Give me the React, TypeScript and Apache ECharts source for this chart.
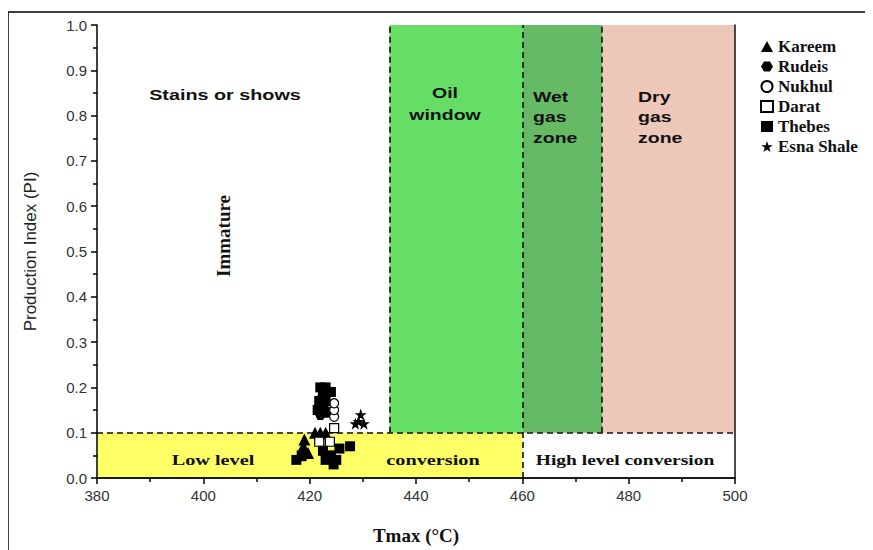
import React, { useEffect, useRef } from "react";
import * as echarts from "echarts";

const seriesNames = ["Kareem", "Rudeis", "Nukhul", "Darat", "Thebes", "Esna Shale"];

const kareem: [number, number][] = [
  [418.3, 0.05], [419, 0.085], [419.7, 0.055], [418.8, 0.07], [421, 0.1], [422, 0.1], [423, 0.1],
];
const rudeis: [number, number][] = [
  [422, 0.14], [422.6, 0.155], [423.2, 0.145], [422.2, 0.175], [421.8, 0.16],
];
const nukhul: [number, number][] = [
  [424.6, 0.135], [424.6, 0.15], [424.6, 0.165],
];
const darat: [number, number][] = [
  [424.6, 0.11], [421.8, 0.08], [423.8, 0.08],
];
const thebes: [number, number][] = [
  [422, 0.2], [423, 0.2], [424, 0.19], [422.5, 0.185], [421.8, 0.17], [423, 0.17], [421.5, 0.15],
  [417.5, 0.04], [418.5, 0.05], [422.5, 0.06], [423, 0.04], [424, 0.05], [425, 0.04],
  [425.6, 0.065], [427.6, 0.07], [424.5, 0.03],
];
const esnaShale: [number, number][] = [
  [429.6, 0.14], [429.2, 0.125], [430.2, 0.12], [428.6, 0.12],
];

const xTicks = { min: 380, max: 500, interval: 20 };
const yTicks = { min: 0, max: 1, interval: 0.1 };

const hexPath = "path://M0,5 L3,0 L9,0 L12,5 L9,10 L3,10 Z";
const starPath =
  "path://M5,0 L6.2,3.6 L10,3.6 L6.9,5.9 L8.1,9.5 L5,7.3 L1.9,9.5 L3.1,5.9 L0,3.6 L3.8,3.6 Z";

const sans = "Liberation Sans, Arial, sans-serif";
const serif = "Liberation Serif, Times New Roman, serif";

export default function App() {
  const ref = useRef<HTMLDivElement>(null);
  useEffect(() => {
    if (!ref.current) return;
    const chart = echarts.init(ref.current, undefined, { renderer: "svg" });
    const dash = { type: [6, 4] as any, color: "#111", width: 1.6 };
    const mk = (name: string, data: [number, number][], symbol: string, size: number, fill: string) => ({
      name,
      type: "scatter",
      data,
      symbol,
      symbolSize: size,
      z: 6,
      itemStyle: { color: fill, borderColor: "#000", borderWidth: fill === "#fff" ? 1.2 : 0, opacity: 1 },
    });
    const txt = (x: number, y: number, text: string, font: string, align: string, extra: any = {}) => ({
      type: "text",
      x,
      y,
      z: 20,
      silent: true,
      ...extra,
      style: { text, font, fill: "#111", align, verticalAlign: "middle", ...(extra.style || {}) },
    });
    chart.setOption({
      animation: false,
      backgroundColor: "#fff",
      grid: { left: 97, right: 138, top: 25, bottom: 68, containLabel: false },
      legend: {
        orient: "vertical",
        left: 755,
        top: 33,
        itemGap: 3,
        itemWidth: 12,
        itemHeight: 11,
        data: seriesNames,
        textStyle: { fontFamily: serif, fontWeight: "bold", fontSize: 17, color: "#111" },
      },
      xAxis: [
        {
          type: "value",
          min: xTicks.min,
          max: xTicks.max,
          interval: xTicks.interval,
          z: 5,
          axisLine: { show: true, onZero: false, lineStyle: { color: "#000", width: 1.5 } },
          axisTick: { show: true, length: 6, lineStyle: { color: "#000", width: 1.5 } },
          minorTick: { show: true, splitNumber: 2, length: 4, lineStyle: { color: "#000", width: 1.5 } },
          splitLine: { show: false },
          axisLabel: { fontFamily: sans, fontSize: 15, color: "#333", margin: 10 },
          name: "Tmax (°C)",
          nameLocation: "middle",
          nameGap: 48,
          nameTextStyle: { fontFamily: serif, fontWeight: "bold", fontSize: 19, color: "#111" },
        },
        {
          type: "value",
          position: "top",
          min: xTicks.min,
          max: xTicks.max,
          z: 5,
          axisLine: { show: true, lineStyle: { color: "#111", width: 1.5 } },
          axisTick: { show: false },
          axisLabel: { show: false },
          splitLine: { show: false },
        },
      ],
      yAxis: [
        {
          type: "value",
          min: yTicks.min,
          max: yTicks.max,
          interval: yTicks.interval,
          z: 5,
          axisLine: { show: true, onZero: false, lineStyle: { color: "#000", width: 1.5 } },
          axisTick: { show: true, length: 6, lineStyle: { color: "#000", width: 1.5 } },
          minorTick: { show: true, splitNumber: 2, length: 4, lineStyle: { color: "#000", width: 1.5 } },
          splitLine: { show: false },
          axisLabel: {
            fontFamily: sans,
            fontSize: 15,
            color: "#333",
            margin: 10,
            formatter: (v: number) => v.toFixed(1),
          },
          name: "Production Index (PI)",
          nameLocation: "middle",
          nameGap: 58,
          nameTextStyle: { fontFamily: sans, fontSize: 17, color: "#222" },
        },
        {
          type: "value",
          position: "right",
          min: yTicks.min,
          max: yTicks.max,
          z: 5,
          axisLine: { show: true, lineStyle: { color: "#111", width: 1.5 } },
          axisTick: { show: false },
          axisLabel: { show: false },
          splitLine: { show: false },
        },
      ],
      series: [
        {
          name: "zones",
          type: "scatter",
          data: [],
          z: 1,
          silent: true,
          markArea: {
            silent: true,
            data: [
              [{ coord: [380, 0], itemStyle: { color: "#FFFF66" } }, { coord: [460, 0.1] }],
              [{ coord: [435, 0.1], itemStyle: { color: "#66DE66" } }, { coord: [460, 1] }],
              [{ coord: [460, 0.1], itemStyle: { color: "#66BA66" } }, { coord: [475, 1] }],
              [{ coord: [475, 0.1], itemStyle: { color: "#EDC7B8" } }, { coord: [500, 1] }],
            ],
          },
          markLine: {
            silent: true,
            symbol: ["none", "none"],
            label: { show: false },
            lineStyle: dash,
            data: [
              [{ coord: [380, 0.1] }, { coord: [500, 0.1] }],
              [{ coord: [435, 0.1] }, { coord: [435, 1] }],
              [{ coord: [460, 0] }, { coord: [460, 1] }],
              [{ coord: [475, 0.1] }, { coord: [475, 1] }],
            ],
          },
        },
        mk("Kareem", kareem, "triangle", 12, "#000"),
        mk("Rudeis", rudeis, hexPath, 11, "#000"),
        mk("Nukhul", nukhul, "circle", 9, "#fff"),
        mk("Darat", darat, "rect", 9, "#fff"),
        mk("Thebes", thebes, "rect", 10, "#000"),
        mk("Esna Shale", esnaShale, starPath, 12, "#000"),
      ],
      graphic: [
        {
          type: "rect",
          z: 0,
          silent: true,
          shape: { x: 8, y: 12, width: 1000, height: 700 },
          style: { fill: "none", stroke: "#000", lineWidth: 1.5 },
        },
        txt(225, 95, "Stains or shows", `bold 15px ${sans}`, "center", { scaleX: 1.32 }),
        txt(223, 236, "Immature", `bold 19px ${serif}`, "center", { rotation: Math.PI / 2 }),
        txt(445, 104, "Oil\nwindow", `bold 15px ${sans}`, "center", { scaleX: 1.3, style: { lineHeight: 22 } }),
        txt(533, 117, "Wet\ngas\nzone", `bold 15px ${sans}`, "left", { scaleX: 1.3, style: { lineHeight: 20.5 } }),
        txt(638, 117, "Dry\ngas\nzone", `bold 15px ${sans}`, "left", { scaleX: 1.3, style: { lineHeight: 20.5 } }),
        txt(213, 460, "Low level", `bold 15px ${serif}`, "center", { scaleX: 1.35 }),
        txt(433, 460, "conversion", `bold 15px ${serif}`, "center", { scaleX: 1.35 }),
        txt(625, 460, "High level conversion", `bold 15px ${serif}`, "center", { scaleX: 1.3 }),
      ],
    });
    return () => chart.dispose();
  }, []);
  return <div ref={ref} style={{ width: 873, height: 550, marginLeft: -8, marginTop: -8 }} />;
}
